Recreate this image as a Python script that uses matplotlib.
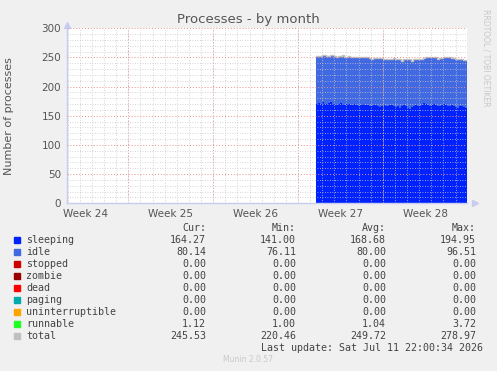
import numpy as np
import matplotlib
matplotlib.use("Agg")
import matplotlib.pyplot as plt
from matplotlib.patches import Rectangle

# time axis: days relative to last update (Sat Jul 11 22:00), month view = 33 days
span_days = 33.0
data_start = -12.4
week_labels = ["Week 24", "Week 25", "Week 26", "Week 27", "Week 28"]
week_bounds = [-27.917, -20.917, -13.917, -6.917]   # Sunday 00:00

sleeping = [171, 172, 170, 173, 171, 170, 172, 174, 171, 170,
            169, 171, 172, 170, 168, 170, 171, 169, 168, 170,
            169, 167, 168, 170, 169, 168, 166, 167, 169, 168,
            167, 165, 166, 168, 167, 166, 168, 169, 167, 165,
            166, 164, 167, 168, 166, 163, 161, 165, 167, 168,
            166, 167, 169, 172, 170, 168, 167, 169, 171, 168,
            167, 166, 168, 170, 169, 167, 166, 168, 167, 165,
            163, 166, 167, 165, 164]
idle = [80, 79, 81, 80, 82, 81, 80, 79, 82, 81,
        80, 81, 79, 80, 82, 80, 81, 80, 81, 79,
        80, 82, 81, 79, 80, 81, 82, 80, 79, 80,
        81, 83, 82, 79, 80, 81, 79, 78, 80, 82,
        81, 83, 76, 79, 81, 84, 86, 78, 80, 79,
        81, 80, 78, 76, 79, 81, 82, 80, 78, 81,
        80, 82, 80, 79, 81, 82, 83, 80, 81, 82,
        84, 80, 79, 80, 80]
runnable = [1, 1, 1.1, 1, 1, 2, 1, 1, 1, 1.2,
            1, 1, 1, 3.7, 1, 1, 1, 1, 1.1, 1,
            1, 1, 1, 1, 2, 1, 1, 1, 1, 1,
            1, 1.1, 1, 1, 1, 1, 1, 1, 2.5, 1,
            1, 1, 1, 1, 1, 1, 1, 1.2, 1, 1,
            1, 1, 1, 1, 1, 2, 1, 1, 1, 1,
            1, 1, 1.1, 1, 1, 1, 1, 1, 1, 1,
            1, 1, 1, 1, 1.12]

legend_names = ["sleeping", "idle", "stopped", "zombie", "dead", "paging",
                "uninterruptible", "runnable", "total"]
legend_colors = ["#0022ff", "#4169e1", "#cc0000", "#990000", "#ff0000",
                 "#00aaaa", "#ffa500", "#22ff22", "#c0c0c0"]
cur = ["164.27", "80.14", "0.00", "0.00", "0.00", "0.00", "0.00", "1.12", "245.53"]
mins = ["141.00", "76.11", "0.00", "0.00", "0.00", "0.00", "0.00", "1.00", "220.46"]
avgs = ["168.68", "80.00", "0.00", "0.00", "0.00", "0.00", "0.00", "1.04", "249.72"]
maxs = ["194.95", "96.51", "0.00", "0.00", "0.00", "0.00", "0.00", "3.72", "278.97"]

W, H = 497, 371
fig = plt.figure(figsize=(W / 100, H / 100), dpi=100, facecolor="#f0f0f0")

def fx(px):
    return px / W

def fy(py):
    return 1 - py / H

ax = fig.add_axes([fx(66.7), fy(203.3), fx(466.7) - fx(66.7), fy(28.3) - fy(203.3)])
ax.set_facecolor("white")

n = len(sleeping)
t = np.linspace(data_start, 0, n + 1)
s = np.array(sleeping, float)
i = np.array(idle, float)
r = np.array(runnable, float)
total = s + i + r

def step(vals):
    return np.append(vals, vals[-1])

ax.fill_between(t, 0, step(s), step="post", color="#0022ff", lw=0)
ax.fill_between(t, step(s), step(s + i), step="post", color="#4169e1", lw=0)
ax.fill_between(t, step(s + i), step(total), step="post", color="#22ff22", lw=0)
ax.step(t, step(total), where="post", color="#c0c0c0", lw=1)

ax.set_xlim(-span_days, 0)
ax.set_ylim(0, 300)

# grid
ax.set_yticks(np.arange(0, 301, 50))
ax.set_yticks(np.arange(0, 301, 10), minor=True)
day_lines = np.arange(-0.917, -span_days, -1.0)
ax.set_xticks(day_lines, minor=True)
ax.set_xticks([b + 3.5 for b in [week_bounds[0] - 7] + week_bounds])
ax.set_xticklabels(week_labels)
ax.grid(True, which="minor", axis="both", color="#c8c8c8", ls=(0, (1, 2)), lw=0.6)
ax.grid(True, which="major", axis="y", color="#e89090", ls=(0, (1, 2)), lw=0.7)
for b in week_bounds:
    ax.axvline(b, color="#e89090", ls=(0, (1, 2)), lw=0.7)
ax.set_axisbelow(False)

ax.tick_params(axis="both", which="both", length=0, labelsize=7.5, colors="#555555")
ax.tick_params(axis="x", pad=4)
ax.tick_params(axis="y", pad=4)
for side in ["top", "right"]:
    ax.spines[side].set_visible(False)
for side in ["left", "bottom"]:
    ax.spines[side].set_color("#c8ccf0")
    ax.spines[side].set_linewidth(1)
ax.plot([0], [1.02], marker="^", color="#c8ccf0", ms=4, transform=ax.transAxes, clip_on=False)
ax.plot([1.02], [0], marker=">", color="#c8ccf0", ms=4, transform=ax.transAxes, clip_on=False)

ax.set_ylabel("Number of processes", fontsize=8, color="#555555", labelpad=20)
fig.text(fx(248), fy(19), "Processes - by month", ha="center", va="center",
         fontsize=9.5, color="#555555")
fig.text(fx(486), fy(58), "RRDTOOL / TOBI OETIKER", rotation=270, ha="center", va="center",
         fontsize=5.5, color="#c8c8c8")

# legend table
mono = "DejaVu Sans Mono"
fs = 7.2
tc = "#444444"
col_x = [206, 296, 386, 476]
heads = ["Cur:", "Min:", "Avg:", "Max:"]
for cx, h in zip(col_x, heads):
    fig.text(fx(cx), fy(228), h, ha="right", va="center", family=mono, fontsize=fs, color=tc)
for k, name in enumerate(legend_names):
    y = 240 + 12 * k
    fig.patches.append(Rectangle((fx(14), fy(y + 3)), fx(6), fy(y - 3) - fy(y + 3),
                                 transform=fig.transFigure, color=legend_colors[k]))
    fig.text(fx(26), fy(y), name, ha="left", va="center", family=mono, fontsize=fs, color=tc)
    for cx, col in zip(col_x, [cur, mins, avgs, maxs]):
        fig.text(fx(cx), fy(y), col[k], ha="right", va="center", family=mono, fontsize=fs, color=tc)
fig.text(fx(483), fy(348), "Last update: Sat Jul 11 22:00:34 2026", ha="right", va="center",
         family=mono, fontsize=fs, color=tc)
fig.text(fx(248), fy(360), "Munin 2.0.57", ha="center", va="center", fontsize=5.5, color="#c8c8c8")

fig.savefig("out.png", dpi=100, facecolor=fig.get_facecolor())
